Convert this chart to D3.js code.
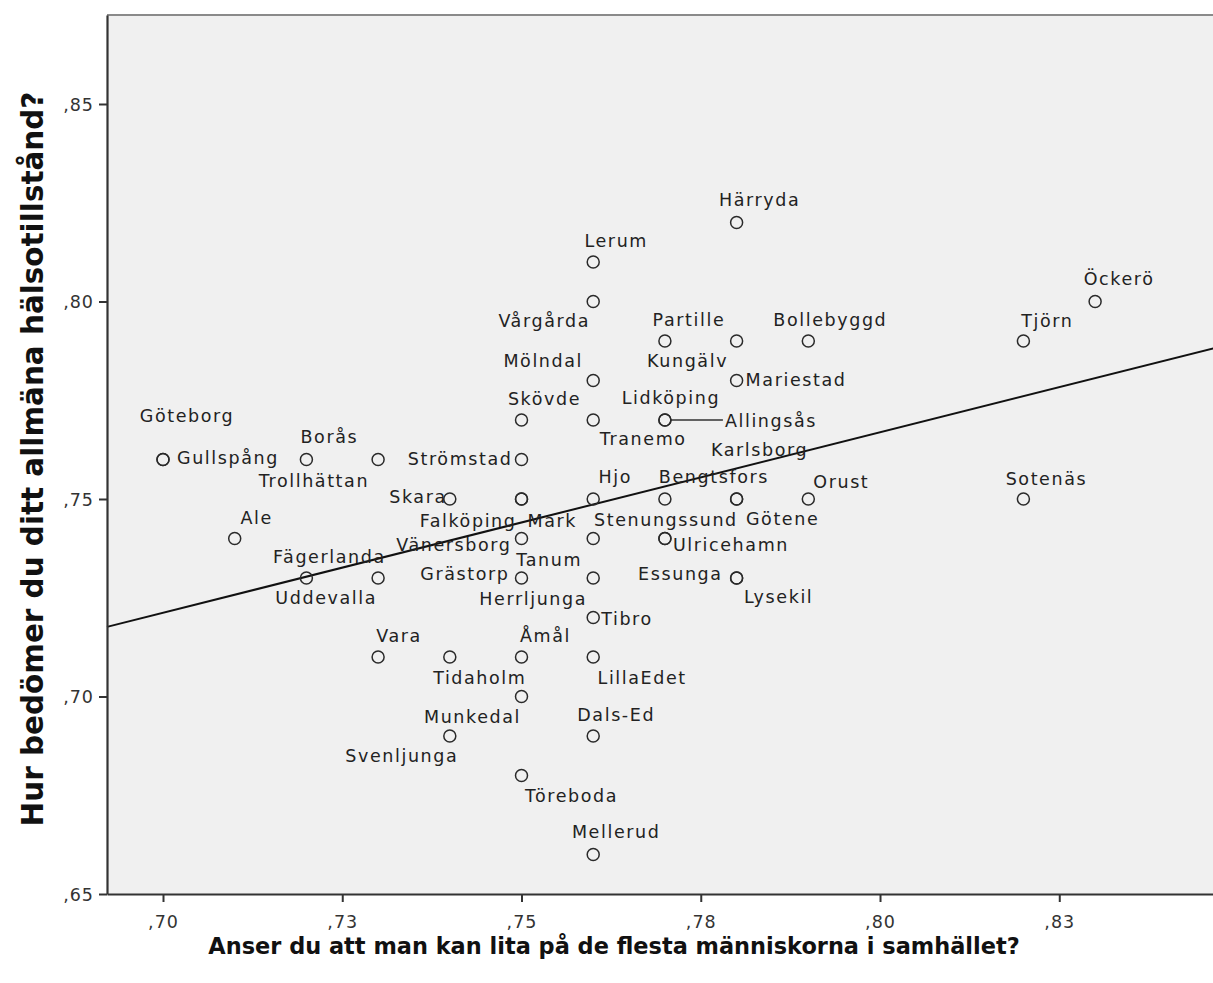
<!DOCTYPE html>
<html><head><meta charset="utf-8">
<script src="https://cdn.jsdelivr.net/npm/d3@7"></script>
<style>body{margin:0;background:#fff}</style>
</head><body>
<svg id="c" width="1213" height="983"></svg>
<script>
// ---------- data ----------
const names = ["Göteborg","Gullspång","Ale","Borås","Trollhättan","Fägerlanda","Uddevalla","Vara","Skara","Tidaholm","Svenljunga",
"Skövde","Strömstad","Falköping","Mark","Vänersborg","Grästorp","Åmål","Munkedal","Töreboda",
"Lerum","Vårgårda","Mölndal","Tranemo","Hjo","Tanum","Herrljunga","Tibro","LillaEdet","Dals-Ed","Mellerud",
"Partille","Lidköping","Allingsås","Bengtsfors","Stenungssund","Ulricehamn",
"Härryda","Kungälv","Mariestad","Karlsborg","Götene","Essunga","Lysekil",
"Bollebyggd","Orust","Tjörn","Sotenäs","Öckerö"];
const trustVals = [0.70,0.70,0.71,0.72,0.73,0.72,0.73,0.73,0.74,0.74,0.74,
0.75,0.75,0.75,0.75,0.75,0.75,0.75,0.75,0.75,
0.76,0.76,0.76,0.76,0.76,0.76,0.76,0.76,0.76,0.76,0.76,
0.77,0.77,0.77,0.77,0.77,0.77,
0.78,0.78,0.78,0.78,0.78,0.78,0.78,
0.79,0.79,0.82,0.82,0.83];
const healthVals = [0.76,0.76,0.74,0.76,0.76,0.73,0.73,0.71,0.75,0.71,0.69,
0.77,0.76,0.75,0.75,0.74,0.73,0.71,0.70,0.68,
0.81,0.80,0.78,0.77,0.75,0.74,0.73,0.72,0.71,0.69,0.66,
0.79,0.77,0.77,0.75,0.74,0.74,
0.82,0.79,0.78,0.75,0.75,0.73,0.73,
0.79,0.75,0.79,0.75,0.80];
const xTickValues = [0.700,0.725,0.750,0.775,0.800,0.825];
const xTickLabels = [",70",",73",",75",",78",",80",",83"];
const yTickValues = [0.65,0.70,0.75,0.80,0.85];
const yTickLabels = [",65",",70",",75",",80",",85"];
const fitSlope = 0.457;
const fitIntercept = 0.4013;
const xTitle = "Anser du att man kan lita på de flesta människorna i samhället?";
const yTitle = "Hur bedömer du ditt allmäna hälsotillstånd?";

// ---------- layout (label placement relative to point) ----------
const labelLayout = {
"Göteborg":["middle",24,-37],"Gullspång":["start",14,5],"Ale":["middle",22,-14],"Borås":["middle",23,-16],
"Trollhättan":["end",-9,28],"Fägerlanda":["middle",23,-15],"Uddevalla":["end",-1,26],"Vara":["middle",21,-15],
"Skara":["end",-3,4],"Tidaholm":["middle",30,27],"Svenljunga":["middle",-48,26],"Skövde":["middle",23,-15],
"Strömstad":["end",-9,6],"Falköping":["end",-5,28],"Mark":["start",6,28],"Vänersborg":["end",-10,13],
"Grästorp":["end",-12,2],"Åmål":["middle",24,-15],"Munkedal":["middle",-49,27],"Töreboda":["middle",50,27],
"Lerum":["middle",23,-15],"Vårgårda":["middle",-49,26],"Mölndal":["middle",-50,-13],"Tranemo":["middle",50,25],
"Hjo":["middle",22,-16],"Tanum":["middle",-44,28],"Herrljunga":["middle",-60,27],"Tibro":["start",8,8],
"LillaEdet":["middle",49,27],"Dals-Ed":["middle",23,-15],"Mellerud":["middle",23,-16],"Partille":["middle",24,-15],
"Lidköping":["middle",6,-16],"Allingsås":["start",60,7],"Bengtsfors":["middle",49,-16],"Stenungssund":["middle",1,-12],
"Ulricehamn":["start",8,13],"Härryda":["middle",23,-16],"Kungälv":["middle",-49,26],"Mariestad":["start",9,6],
"Karlsborg":["middle",23,-43],"Götene":["middle",46,26],"Essunga":["end",-14,2],"Lysekil":["middle",42,25],
"Bollebyggd":["middle",22,-15],"Orust":["middle",33,-11],"Tjörn":["middle",24,-14],"Sotenäs":["middle",23,-14],
"Öckerö":["middle",24,-16]};
const leaderLines = {"Allingsås":true};

const svg = d3.select("#c");
const plot = {left:107, right:1214, top:15, bottom:894};
const x = d3.scaleLinear().domain([0.69219,0.84658]).range([plot.left, plot.right]);
const y = d3.scaleLinear().domain([0.65,0.87253]).range([plot.bottom, plot.top]);

const FONT = "'DejaVu Sans', Verdana, sans-serif";

svg.append("rect").attr("x",plot.left).attr("y",plot.top)
  .attr("width",plot.right-plot.left).attr("height",plot.bottom-plot.top)
  .attr("fill","#f0f0f0");
svg.append("line").attr("x1",plot.left).attr("x2",plot.right).attr("y1",plot.top).attr("y2",plot.top)
  .attr("stroke","#8a8a8a").attr("stroke-width",2);

// fit line
const [d0,d1] = x.domain();
svg.append("line")
  .attr("x1",x(d0)).attr("y1",y(fitIntercept+fitSlope*d0))
  .attr("x2",x(d1)).attr("y2",y(fitIntercept+fitSlope*d1))
  .attr("stroke","#111").attr("stroke-width",2);

// axes
const xAxis = d3.axisBottom(x).tickValues(xTickValues).tickFormat((d,i)=>xTickLabels[i]).tickSize(8).tickSizeOuter(0);
const yAxis = d3.axisLeft(y).tickValues(yTickValues).tickFormat((d,i)=>yTickLabels[i]).tickSize(8).tickSizeOuter(0);
const gx = svg.append("g").attr("transform",`translate(0,${plot.bottom})`).call(xAxis);
const gy = svg.append("g").attr("transform",`translate(${plot.left},0)`).call(yAxis);
[gx,gy].forEach(g=>{
  g.select(".domain").attr("stroke","#333").attr("stroke-width",2.2);
  g.selectAll(".tick line").attr("stroke","#333").attr("stroke-width",2);
  g.selectAll(".tick text").attr("font-family",FONT).attr("font-size",17.5).attr("fill","#333")
    .attr("letter-spacing","1px");
});
gx.selectAll(".tick text").attr("dy","1.3em");
gy.selectAll(".tick text").attr("dx","-2").attr("dy","0.36em");

// data points
const pts = names.map((n,i)=>({name:n, xv:trustVals[i], yv:healthVals[i]}));

svg.append("g").selectAll("line").data(pts.filter(p=>leaderLines[p.name])).join("line")
  .attr("x1",p=>x(p.xv)+6).attr("x2",p=>x(p.xv)+labelLayout[p.name][1]-2)
  .attr("y1",p=>y(p.yv)).attr("y2",p=>y(p.yv))
  .attr("stroke","#333").attr("stroke-width",1.4);

svg.append("g").selectAll("circle").data(pts).join("circle")
  .attr("cx",p=>x(p.xv)).attr("cy",p=>y(p.yv)).attr("r",6)
  .attr("fill","none").attr("stroke","#2a2a2a").attr("stroke-width",1.5);

svg.append("g").selectAll("text").data(pts).join("text")
  .attr("x",p=>x(p.xv)+labelLayout[p.name][1])
  .attr("y",p=>y(p.yv)+labelLayout[p.name][2])
  .attr("text-anchor",p=>labelLayout[p.name][0])
  .attr("font-family",FONT).attr("font-size",17.5).attr("letter-spacing","1.6px")
  .attr("fill","#222")
  .text(p=>p.name);

// titles
function fitText(sel, target){
  const len = sel.node().getComputedTextLength();
  const fs = parseFloat(sel.attr("font-size"));
  sel.attr("font-size", fs*target/len);
}
const tx = svg.append("text").attr("x",(208+1020)/2).attr("y",954).attr("text-anchor","middle")
  .attr("font-family",FONT).attr("font-weight","bold").attr("font-size",22).attr("fill","#111").text(xTitle);
fitText(tx, 812);
const ty = svg.append("text").attr("transform",`translate(43,${(90+828)/2}) rotate(-90)`).attr("text-anchor","middle")
  .attr("font-family",FONT).attr("font-weight","bold").attr("font-size",22).attr("fill","#111").text(yTitle);
fitText(ty, 735);
</script>
</body></html>
